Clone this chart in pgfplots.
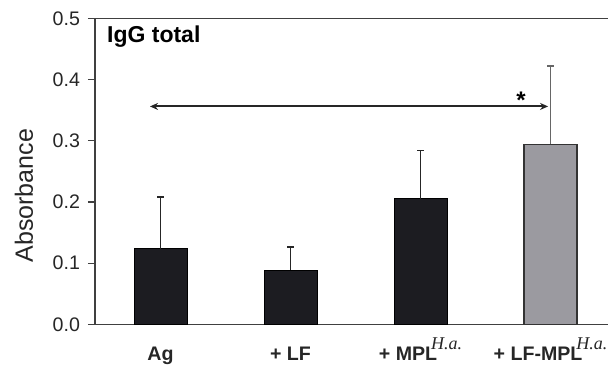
\documentclass[border=0pt]{standalone}
\usepackage{pgfplots}
\pgfplotsset{compat=1.18}
\usepackage{fontspec}
\setmainfont{Liberation Sans}
\newfontfamily\seriffont{Liberation Serif}
\usetikzlibrary{arrows.meta}
\definecolor{barblack}{HTML}{1C1C21}
\definecolor{bargray}{HTML}{9B9AA0}
\newcommand{\Ha}{\kern-3pt\raisebox{5.5pt}{\seriffont\mdseries\itshape\fontsize{9}{9}\selectfont H.a.}}
\begin{document}
\begin{tikzpicture}
\begin{axis}[
  scale only axis,
  width=256.5pt, height=153pt,
  xmin=-0.504, xmax=3.442,
  ymin=0, ymax=0.5,
  axis x line*=bottom, axis y line*=left,
  axis line style={line width=0.6pt, black!75},
  ytick={0,0.1,0.2,0.3,0.4,0.5},
  /pgf/number format/fixed, /pgf/number format/fixed zerofill, /pgf/number format/precision=1,
  /pgf/number format/assume math mode=true,
  yticklabel style={font=\fontsize{9.8}{10}\selectfont, black!85, xshift=-0.5pt},
  xtick={0,1,2,3},
  xticklabels={Ag, + LF, + MPL\Ha, + LF-MPL\Ha},
  xticklabel style={font=\bfseries\fontsize{9.8}{10}\selectfont, black!85, anchor=base, yshift=-14.5pt},
  major x tick style={draw=none},
  extra x ticks={0.5,1.5,2.5},
  extra x tick labels={},
  extra x tick style={major tick length=3pt, tick style={draw=black!75, line width=0.6pt}, tick align=outside},
  tick align=outside,
  major tick length=3.5pt,
  tick style={line width=0.6pt, black!75},
  clip=false,
]
\addplot[ybar, bar width=26.5pt, fill=barblack, draw=black, line width=0.5pt,
  error bars/.cd, y dir=plus, y explicit,
  error bar style={line width=0.8pt, black!85},
  error mark options={rotate=90, mark size=1.6pt, line width=0.8pt}]
  coordinates {(0,0.1237) +- (0,0.0843) (1,0.0884) +- (0,0.0381) (2,0.205) +- (0,0.079)};
\addplot[ybar, bar width=26.5pt, fill=bargray, draw=black!80, line width=0.6pt,
  error bars/.cd, y dir=plus, y explicit,
  error bar style={line width=0.8pt, black!60},
  error mark options={rotate=90, mark size=1.6pt, line width=0.8pt}]
  coordinates {(3,0.294) +- (0,0.1276)};
\draw[black!85, line width=1pt, {Stealth[length=4pt,width=3.5pt]}-{Stealth[length=4pt,width=3.5pt]}] (axis cs:-0.081,0.356) -- (axis cs:2.981,0.356);
\node[font=\bfseries\fontsize{12}{12}\selectfont] at (axis cs:2.773,0.366) {*};
\node[font=\bfseries\fontsize{11.5}{12}\selectfont, anchor=west] at (axis cs:-0.465,0.47) {IgG total};
\node[rotate=90, font=\fontsize{12.5}{13}\selectfont, text=black!85] at ([xshift=-35.5pt]rel axis cs:0,0.42) {Absorbance};
\draw[line width=0.6pt, black!75] (rel axis cs:0,1) -- (rel axis cs:1,1);
\end{axis}
\pgfresetboundingbox
\path[use as bounding box] (-47.5pt,-20.35pt) rectangle (256.5pt,162.15pt);
\end{tikzpicture}
\end{document}
